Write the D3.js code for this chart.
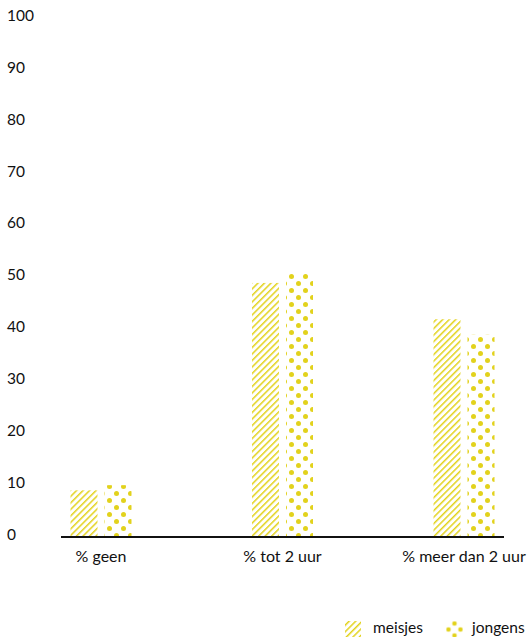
<!DOCTYPE html>
<html><head><meta charset="utf-8">
<script src="https://cdn.jsdelivr.net/npm/d3@7"></script>
<style>body{margin:0;background:#fff}text{font-family:Lato,"Open Sans",sans-serif;fill:#111}</style>
</head><body><svg id="c" width="532" height="642"></svg>
<script>
const categories = ["% geen", "% tot 2 uur", "% meer dan 2 uur"];
const seriesNames = ["meisjes", "jongens"];
const meisjes = [9, 49, 42];
const jongens = [10, 51, 39];
const yTicks = [0, 10, 20, 30, 40, 50, 60, 70, 80, 90, 100];
const color = "#e2d21c";

const svg = d3.select("#c");
const defs = svg.append("defs");
const hatch = defs.append("pattern").attr("id", "hatch").attr("patternUnits", "userSpaceOnUse")
  .attr("width", 4.6).attr("height", 4.6).attr("patternTransform", "rotate(45)");
hatch.append("rect").attr("x", 0).attr("y", 0).attr("width", 1.5).attr("height", 4.6).attr("fill", color);
const dots = defs.append("pattern").attr("id", "dots").attr("patternUnits", "userSpaceOnUse")
  .attr("width", 14).attr("height", 14).attr("x", 1).attr("y", 0);
dots.append("circle").attr("cx", 3.5).attr("cy", 3.5).attr("r", 2.5).attr("fill", color);
dots.append("circle").attr("cx", 10.5).attr("cy", 10.5).attr("r", 2.5).attr("fill", color);
const dotsL = defs.append("pattern").attr("id", "dotsL").attr("patternUnits", "userSpaceOnUse")
  .attr("width", 12).attr("height", 12).attr("x", 445.5).attr("y", 614.5);
dotsL.append("circle").attr("cx", 3).attr("cy", 3).attr("r", 2.3).attr("fill", color);
dotsL.append("circle").attr("cx", 9).attr("cy", 9).attr("r", 2.3).attr("fill", color);
const fills = ["url(#hatch)", "url(#dots)"];
const legFills = ["url(#hatch)", "url(#dotsL)"];

const y = d3.scaleLinear().domain([0, 100]).range([537, 18.5]);
const x = d3.scalePoint().domain(categories).range([101, 464]);
const barW = 27, gap = 3.5;

// y labels
svg.append("g").selectAll("text").data(yTicks).join("text")
  .attr("x", 7).attr("y", d => y(d) + 2.5).attr("font-size", 15.5).text(d => d);

const series = [meisjes, jongens];
series.forEach((vals, si) => {
  svg.append("g").selectAll("rect").data(categories).join("rect")
    .attr("x", c => si === 0 ? x(c) - gap - barW : x(c) + gap)
    .attr("y", (c, i) => y(vals[i]))
    .attr("width", barW)
    .attr("height", (c, i) => y(0) - y(vals[i]))
    .attr("fill", fills[si]);
});

// axis line
svg.append("line").attr("x1", 61).attr("x2", 504).attr("y1", y(0)).attr("y2", y(0))
  .attr("stroke", "#111").attr("stroke-width", 2);

svg.append("g").selectAll("text").data(categories).join("text")
  .attr("x", c => x(c)).attr("y", 562).attr("text-anchor", "middle").attr("font-size", 16).text(c => c);

// legend
const leg = [{n: seriesNames[0], sx: 345, tx: 373}, {n: seriesNames[1], sx: 446, tx: 472}];
leg.forEach((l, i) => {
  svg.append("rect").attr("x", l.sx).attr("y", 621).attr("width", i ? 17 : 16).attr("height", 16).attr("fill", legFills[i]);
  svg.append("text").attr("x", l.tx).attr("y", 633).attr("font-size", 15.5).text(l.n);
});
</script></body></html>
